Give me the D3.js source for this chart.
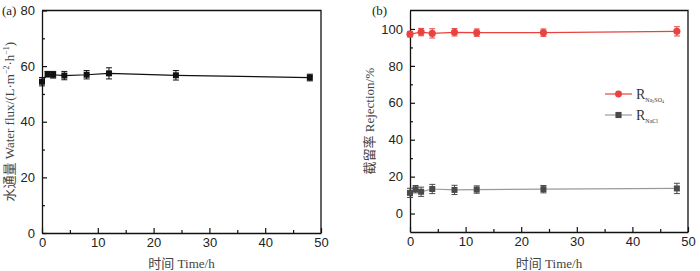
<!DOCTYPE html>
<html>
<head>
<meta charset="utf-8">
<script src="https://cdn.jsdelivr.net/npm/d3@7"></script>
<style>
body { margin: 0; background: #fff; }
svg { display: block; font-family: "Liberation Serif", "Noto Sans CJK SC", serif; }
.tick text { font-size: 13px; fill: #222; }
</style>
</head>
<body>
<svg width="700" height="271"></svg>
<script>
// time points (h)
var times = [0, 1, 2, 4, 8, 12, 24, 48];
var timesNa2SO4 = [0, 2, 4, 8, 12, 24, 48];
// (a) water flux
var flux = [54.4, 57.1, 56.9, 56.6, 56.9, 57.4, 56.7, 55.9];
var fluxErr = [1.5, 1.0, 1.2, 1.5, 1.5, 2.0, 1.7, 1.2];
// (b) rejection
var rNa2SO4 = [97.2, 98.3, 97.6, 98.2, 98.0, 98.0, 98.7];
var rNa2SO4Err = [1.5, 2.0, 2.5, 2.0, 2.0, 2.0, 2.5];
var rNaCl = [11.2, 13.2, 11.8, 13.3, 12.8, 13.0, 13.2, 13.6];
var rNaClErr = [2.5, 2.0, 2.5, 2.5, 2.5, 2.0, 2.0, 2.8];

var xTicks = [0, 10, 20, 30, 40, 50];
var svg = d3.select("svg");
var red = "#e8433f", darkGray = "#4a4a4a", lineGray = "#9a9a9a";

function panel(opt) {
    var x = d3.scaleLinear().domain([0, 50]).range([opt.left, opt.right]);
    var y = d3.scaleLinear().domain(opt.yDomain).range([opt.bottom, opt.top]);
    var g = svg.append("g");

    // minor ticks
    var xMinor = d3.range(5, 50, 10);
    g.append("g").attr("transform", "translate(0," + opt.bottom + ")")
        .call(d3.axisBottom(x).tickValues(xMinor).tickSize(-3).tickFormat(""))
        .call(function(s) { s.select(".domain").remove(); });
    g.append("g").attr("transform", "translate(" + opt.left + ",0)")
        .call(d3.axisLeft(y).tickValues(opt.yMinor).tickSize(-3).tickFormat(""))
        .call(function(s) { s.select(".domain").remove(); });

    g.append("g").attr("transform", "translate(0," + opt.bottom + ")")
        .call(d3.axisBottom(x).tickValues(xTicks).tickSize(-5).tickPadding(5).tickSizeOuter(0));
    g.append("g").attr("transform", "translate(" + opt.left + ",0)")
        .call(d3.axisLeft(y).tickValues(opt.yTicks).tickSize(-5).tickPadding(7).tickSizeOuter(0));
    g.selectAll(".domain").attr("stroke", "#111").attr("stroke-width", 1.3);
    g.selectAll(".tick line").attr("stroke", "#111").attr("stroke-width", 1.2);

    // frame top/right
    g.append("path")
        .attr("d", "M" + opt.left + "," + opt.top + "H" + opt.right + "V" + opt.bottom)
        .attr("fill", "none").attr("stroke", "#111").attr("stroke-width", 1.3);

    // axis titles
    g.append("text").attr("x", (opt.left + opt.right) / 2).attr("y", 268)
        .attr("text-anchor", "middle").attr("font-size", 13).attr("fill", "#444")
        .html('<tspan font-family="Noto Sans CJK SC">时间</tspan> Time/h');
    g.append("text").attr("transform", "translate(" + opt.yLabelX + "," + ((opt.top + opt.bottom) / 2) + ") rotate(-90)")
        .attr("text-anchor", "middle").attr("font-size", 13).attr("fill", "#444")
        .html(opt.yLabel);
    g.append("text").attr("x", opt.tagX).attr("y", 15).attr("font-size", 13).attr("fill", "#222").text(opt.tag);

    return {x: x, y: y, g: g};
}

function series(p, ts, vals, errs, color, lineColor, shape) {
    var line = d3.line().x(function(d, i) { return p.x(ts[i]); }).y(function(d) { return p.y(d); });
    p.g.append("path").datum(vals).attr("d", line)
        .attr("fill", "none").attr("stroke", lineColor).attr("stroke-width", 1.2);
    var eb = p.g.append("g").attr("stroke", color).attr("stroke-width", 1);
    vals.forEach(function(v, i) {
        var cx = p.x(ts[i]), y1 = p.y(v - errs[i]), y2 = p.y(v + errs[i]);
        eb.append("line").attr("x1", cx).attr("x2", cx).attr("y1", y1).attr("y2", y2);
        eb.append("line").attr("x1", cx - 3).attr("x2", cx + 3).attr("y1", y1).attr("y2", y1);
        eb.append("line").attr("x1", cx - 3).attr("x2", cx + 3).attr("y1", y2).attr("y2", y2);
    });
    var sym = d3.symbol().type(shape === "circle" ? d3.symbolCircle : d3.symbolSquare).size(shape === "circle" ? 40 : 36);
    p.g.selectAll(null).data(vals).enter().append("path")
        .attr("d", sym)
        .attr("transform", function(d, i) { return "translate(" + p.x(ts[i]) + "," + p.y(d) + ")"; })
        .attr("fill", color);
}

var pa = panel({
    left: 42, right: 321, top: 10.5, bottom: 233,
    yDomain: [0, 80], yTicks: [0, 20, 40, 60, 80], yMinor: [10, 30, 50, 70],
    yLabelX: 14, tag: "(a)", tagX: 2,
    yLabel: '<tspan font-family="Noto Sans CJK SC">水通量</tspan> Water flux/(L·m<tspan dy="-5" font-size="8">−2</tspan><tspan dy="5">·h</tspan><tspan dy="-5" font-size="8">−1</tspan><tspan dy="5">)</tspan>'
});
series(pa, times, flux, fluxErr, "#111", "#111", "square");

var pb = panel({
    left: 410, right: 688, top: 10.5, bottom: 232,
    yDomain: [-10, 110], yTicks: [0, 20, 40, 60, 80, 100], yMinor: [10, 30, 50, 70, 90],
    yLabelX: 374, tag: "(b)", tagX: 372,
    yLabel: '<tspan font-family="Noto Sans CJK SC">截留率</tspan> Rejection/%'
});
series(pb, timesNa2SO4, rNa2SO4, rNa2SO4Err, red, red, "circle");
series(pb, times, rNaCl, rNaClErr, darkGray, lineGray, "square");

// legend
var legend = [
    {name: "Na", sub2: "2", color: red, lc: red, shape: d3.symbolCircle, y: 94},
    {name: "NaCl", color: darkGray, lc: lineGray, shape: d3.symbolSquare, y: 115}
];
legend.forEach(function(l) {
    var lg = pb.g.append("g");
    lg.append("line").attr("x1", 605).attr("x2", 632).attr("y1", l.y).attr("y2", l.y)
        .attr("stroke", l.lc).attr("stroke-width", 1.2);
    lg.append("path").attr("d", d3.symbol().type(l.shape).size(38))
        .attr("transform", "translate(618.5," + l.y + ")").attr("fill", l.color);
    var t = lg.append("text").attr("x", 636).attr("y", l.y + 5).attr("font-size", 14).attr("fill", "#333");
    t.append("tspan").text("R");
    if (l.sub2) {
        t.append("tspan").attr("dy", 3).attr("font-size", 6).text("Na");
        t.append("tspan").attr("dy", 1).attr("font-size", 4).text("2");
        t.append("tspan").attr("dy", -1).attr("font-size", 6).text("SO");
        t.append("tspan").attr("dy", 1).attr("font-size", 4).text("4");
    } else {
        t.append("tspan").attr("dy", 3).attr("font-size", 6).text(l.name);
    }
});
</script>
</body>
</html>
